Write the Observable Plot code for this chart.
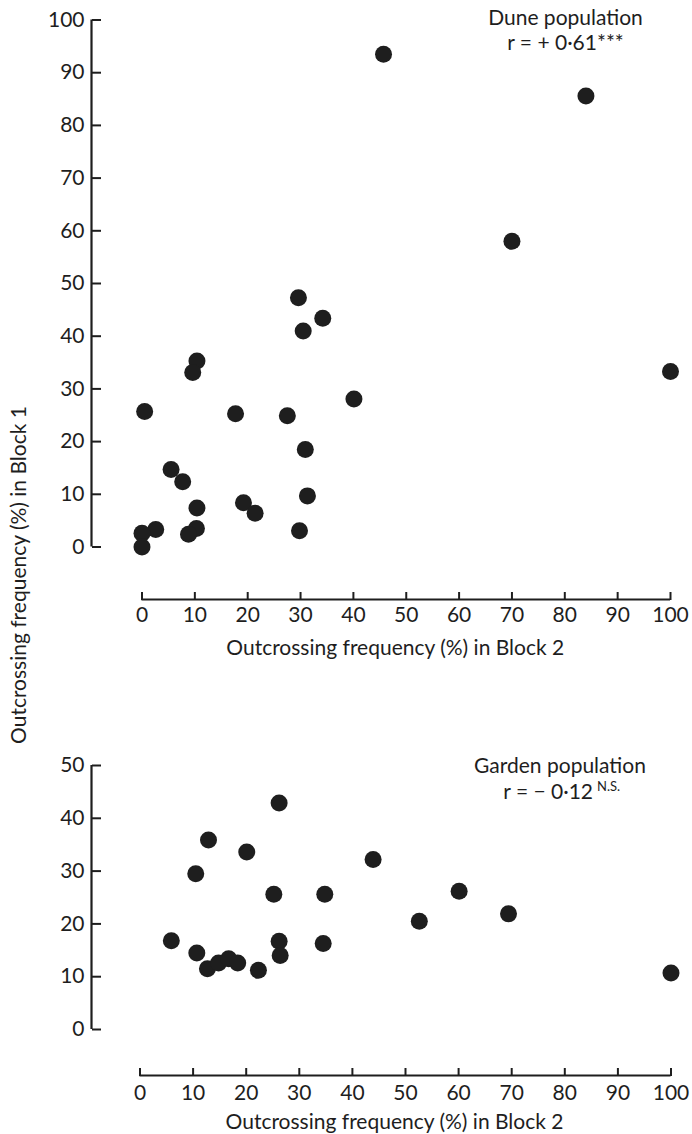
<!DOCTYPE html>
<html><head><meta charset="utf-8">
<script src="https://cdn.jsdelivr.net/npm/d3@7"></script>
<script src="https://cdn.jsdelivr.net/npm/@observablehq/plot@0.6"></script>
<style>
body{margin:0;background:#fff;}
#wrap{position:relative;width:692px;height:1134px;overflow:hidden;font-family:Lato, sans-serif;color:#1e1e1e;background:#fff;}
#top{position:absolute;left:0;top:0;}
#bottom{position:absolute;left:0;top:700px;}
#ytitle{position:absolute;left:17px;top:575px;transform:translate(-50%,-50%) rotate(-90deg);white-space:nowrap;font-size:21px;line-height:1;}
</style></head><body>
<div id="wrap"><div id="top"></div><div id="bottom"></div><div id="ytitle"></div></div>
<script>
// ---- data ----
const xTicks = [0, 10, 20, 30, 40, 50, 60, 70, 80, 90, 100];
const duneYTicks = [0, 10, 20, 30, 40, 50, 60, 70, 80, 90, 100];
const gardenYTicks = [0, 10, 20, 30, 40, 50];

const duneBlock2 = [29.6, 34.2, 30.5, 10.4, 9.6, 40.1, 0.5, 17.7, 27.5, 30.9, 5.5, 7.7, 31.3, 10.4, 19.2, 21.4, 29.8, 2.6, 10.3, 8.8, 0, 0, 45.7, 84.0, 70.0, 100];
const duneBlock1 = [47.3, 43.4, 41.0, 35.3, 33.1, 28.1, 25.7, 25.3, 24.9, 18.5, 14.7, 12.4, 9.7, 7.4, 8.4, 6.4, 3.1, 3.3, 3.5, 2.4, 2.6, 0, 93.5, 85.6, 58.0, 33.3];

const gardenBlock2 = [26.2, 12.9, 20.1, 10.5, 25.2, 34.8, 5.9, 10.7, 26.2, 26.4, 34.5, 12.7, 14.8, 16.7, 18.4, 22.3, 43.9, 60.1, 52.6, 69.4, 100];
const gardenBlock1 = [42.9, 35.9, 33.6, 29.5, 25.6, 25.6, 16.8, 14.5, 16.7, 14.0, 16.3, 11.5, 12.6, 13.4, 12.6, 11.2, 32.2, 26.2, 20.5, 21.9, 10.7];

const xTitle = "Outcrossing frequency (%) in Block 2";
const yTitle = "Outcrossing frequency (%) in Block 1";
const duneName = "Dune population";
const duneR = "r = + 0·61***";
const gardenName = "Garden population";
const gardenR = "r = − 0·12";
const gardenSig = "N.S.";

const ink = "#1e1e1e";
const FS = 21;
const dune = duneBlock2.map((x, i) => ({x, y: duneBlock1[i]}));
const garden = gardenBlock2.map((x, i) => ({x, y: gardenBlock1[i]}));
const first = a => a[0], last = a => a[a.length - 1];

function panel({data, yTicks, height, ml, mr, mt, mb, axDx, tkDx, axDy, tkDy, labPad, titleDy, notes}) {
  return Plot.plot({
    width: 692, height,
    marginLeft: ml, marginRight: mr, marginTop: mt, marginBottom: mb,
    x: {domain: [first(xTicks), last(xTicks)], label: null},
    y: {domain: [first(yTicks), last(yTicks)], label: null},
    style: {fontFamily: "Lato, sans-serif", fontSize: FS + "px", color: ink, background: "transparent"},
    marks: [
      Plot.ruleX([first(xTicks)], {y1: first(yTicks), y2: last(yTicks), dx: axDx, stroke: ink, strokeWidth: 2.2}),
      Plot.ruleY([first(yTicks)], {x1: first(xTicks), x2: last(xTicks), dy: axDy, stroke: ink, strokeWidth: 2.2}),
      Plot.axisY(yTicks, {anchor: "left", tickSize: 0, tickPadding: 7, dx: axDx, label: null, fontSize: FS}),
      Plot.axisY(yTicks, {anchor: "right", tickSize: 9, tickFormat: () => "", dx: tkDx, label: null, strokeWidth: 2, stroke: ink}),
      Plot.axisX(xTicks, {anchor: "bottom", tickSize: 0, tickPadding: labPad, dy: axDy, label: null, fontSize: FS}),
      Plot.axisX(xTicks, {anchor: "top", tickSize: 8, tickFormat: () => "", dy: tkDy, label: null, strokeWidth: 2, stroke: ink}),
      Plot.text([xTitle], {frameAnchor: "bottom", text: d => d, dx: -11, dy: titleDy, lineAnchor: "middle", fontSize: FS, fill: ink}),
      ...notes,
      Plot.dot(data, {x: "x", y: "y", r: 8.5, fill: ink, stroke: null})
    ]
  });
}

document.getElementById("top").append(panel({
  data: dune, yTicks: duneYTicks, height: 680,
  ml: 141.5, mr: 22, mt: 19.5, mb: 133.5,
  axDx: -50.5, tkDx: -579, axDy: 52.5, tkDy: 579.5, labPad: 8, titleDy: 101.5,
  notes: [
    Plot.text([duneName], {frameAnchor: "top-right", text: d => d, dx: -105, dy: -1.5, textAnchor: "middle", lineAnchor: "middle", fontSize: FS, fill: ink}),
    Plot.text([duneR], {frameAnchor: "top-right", text: d => d, dx: -105, dy: 23.5, textAnchor: "middle", lineAnchor: "middle", fontSize: FS, fill: ink})
  ]
}));

document.getElementById("bottom").append(panel({
  data: garden, yTicks: gardenYTicks, height: 434,
  ml: 139.5, mr: 21.5, mt: 65, mb: 105,
  axDx: -48.5, tkDx: -579.5, axDy: 46, tkDy: 310, labPad: 10, titleDy: 93,
  notes: [
    Plot.text([gardenName], {frameAnchor: "top-right", text: d => d, dx: -111, dy: 1, textAnchor: "middle", lineAnchor: "middle", fontSize: FS, fill: ink}),
    Plot.text([gardenR], {frameAnchor: "top-right", text: d => d, dx: -78, dy: 27, textAnchor: "end", lineAnchor: "middle", fontSize: FS, fill: ink}),
    Plot.text([gardenSig], {frameAnchor: "top-right", text: d => d, dx: -74, dy: 21, textAnchor: "start", lineAnchor: "middle", fontSize: 13, fill: ink})
  ]
}));

document.getElementById("ytitle").textContent = yTitle;
</script>
</body></html>
